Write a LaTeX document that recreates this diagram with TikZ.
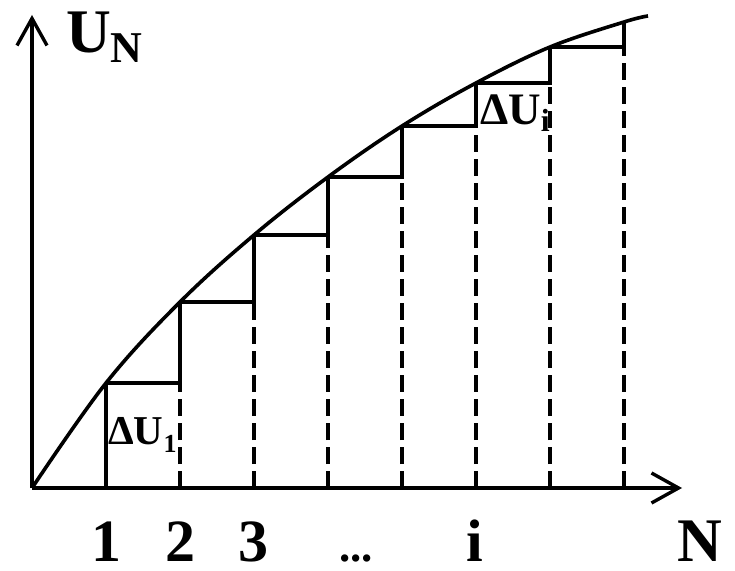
\documentclass[tikz,border=0pt]{standalone}
\usepackage{fontspec}
\setmainfont{Liberation Serif}
\usepackage{tikz}
\usetikzlibrary{arrows.meta, calc}

\newcommand{\fs}[1]{\fontsize{#1}{#1}\selectfont}

\begin{document}
\begin{tikzpicture}[x=1pt, y=1pt,
    ax/.style={line width=3.6pt, -{Straight Barb[length=27pt, width=30pt, line width=3.4pt]}},
    curve/.style={line width=3.6pt},
    stepline/.style={line width=3.6pt},
    dashline/.style={line width=3.8pt, dash pattern=on 17pt off 7pt},
    lbl/.style={font=\bfseries, inner sep=0pt},
    num/.style={lbl, anchor=base, text depth=0pt}]
  \useasboundingbox (0,0) rectangle (735,570);
  % axes
  \coordinate (O) at (32,82);
  \coordinate (ytip) at (32,555);
  \coordinate (xtip) at (682,82);
  \draw[ax] (O) -- (ytip);
  \draw[ax] (O) -- (xtip);
  % points on the curve and on the axis
  \foreach \k/\h in {1/187, 2/268, 3/335, 4/393, 5/444, 6/487, 7/523, 8/548} {
    \coordinate (p\k) at ({32+74*\k},\h);
    \coordinate (b\k) at ({32+74*\k},82);
  }
  \coordinate (cend) at (648,554);
  \draw[curve] plot[smooth, tension=0.6] coordinates {(O) (p1) (p2) (p3) (p4) (p5) (p6) (p7) (p8) (cend)};
  % steps
  \draw[stepline] (b1) -- (p1);
  \foreach \k [evaluate=\k as \n using int(\k+1)] in {1,...,7} {
    \draw[stepline] (p\k) -- (p\k -| b\n) -- (p\n);
    \draw[dashline] (b\n) -- (p\k -| b\n);
  }
  % labels
  \node[lbl, anchor=base west] (uN) at (66,517) {\fs{62}U\raisebox{-10pt}{\fs{44}N}};
  \node[lbl, anchor=base west] (du1) at (108,125) {\fs{41}ΔU\raisebox{-7pt}{\fs{26}1}};
  \node[lbl, anchor=base west] (dui) at (480,445) {\fs{45}ΔU\raisebox{-7pt}{\fs{32}i}};
  \node[num] (n1) at (106,9) {\fs{60}1};
  \node[num] (n2) at (180,9) {\fs{60}2};
  \node[num] (n3) at (253,9) {\fs{60}3};
  \node[num] (ndots) at (356,9) {\fs{45}...};
  \node[num] (ni) at (475,9) {\fs{60}i};
  \node[num] (nN) at (700,9) {\fs{62}N};
\end{tikzpicture}
\end{document}
